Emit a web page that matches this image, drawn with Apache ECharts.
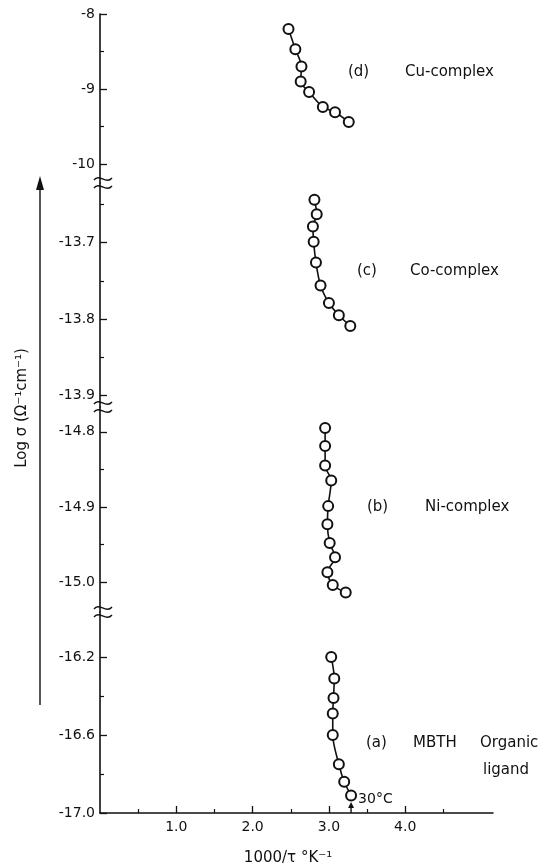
<!DOCTYPE html>
<html>
<head>
<meta charset="utf-8">
<script src="https://cdn.jsdelivr.net/npm/echarts@6/dist/echarts.min.js"></script>
<style>
  html, body { margin: 0; padding: 0; background: #fff; }
  #chart { width: 554px; height: 867px; }
</style>
</head>
<body>
<div id="chart"></div>
<script>
// data: 1000/T (x) against log sigma (y)
const cuX = [2.47, 2.56, 2.64, 2.63, 2.74, 2.92, 3.08, 3.26];
const cuY = [-8.20, -8.47, -8.70, -8.90, -9.04, -9.24, -9.31, -9.44];

const coX = [2.81, 2.84, 2.79, 2.80, 2.83, 2.89, 3.00, 3.13, 3.28];
const coY = [-13.644, -13.663, -13.679, -13.699, -13.726, -13.756, -13.779, -13.795, -13.809];

const niX = [2.95, 2.95, 2.95, 3.03, 2.99, 2.98, 3.01, 3.08, 2.98, 3.05, 3.22];
const niY = [-14.795, -14.819, -14.845, -14.865, -14.899, -14.923, -14.948, -14.967, -14.987, -15.004, -15.014];

const mbthX = [3.03, 3.07, 3.06, 3.05, 3.05, 3.13, 3.20, 3.29];
const mbthY = [-16.20, -16.31, -16.41, -16.49, -16.60, -16.75, -16.84, -16.91];

// tick values (broken axis: one segment per complex)
const yMajor = [
  [-8, -9, -10],
  [-13.7, -13.8, -13.9],
  [-14.8, -14.9, -15.0],
  [-16.2, -16.6, -17.0]
];
const yMinor = [
  [-8.5, -9.5],
  [-13.65, -13.75, -13.85],
  [-14.85, -14.95],
  [-16.4, -16.8]
];
const yDecimals = [0, 1, 1, 1];
const xMajor = [1, 2, 3, 4];
const xMinor = [0.5, 1.5, 2.5, 3.5, 4.5];

const segments = [
  { top: 14, height: 169, min: -10.253, max: -8 },
  { top: 183, height: 224, min: -13.915, max: -13.622 },
  { top: 407, height: 205, min: -15.040, max: -14.767 },
  { top: 612, height: 201, min: -17.0, max: -15.969 }
];

const font = 'DejaVu Sans';
const ink = '#111';

const chart = echarts.init(document.getElementById('chart'));

const grids = segments.map((s) => ({ left: 100, width: 393, top: s.top, height: s.height }));

const xAxes = segments.map((s, i) => ({
  type: 'value',
  gridIndex: i,
  position: 'bottom',
  min: 0,
  max: 5.15,
  show: i === 3,
  axisLine: { show: true, onZero: false, lineStyle: { color: ink, width: 1.6 } },
  axisTick: { show: true, inside: true, length: 7, customValues: xMajor, lineStyle: { color: ink, width: 1.3 } },
  axisLabel: {
    show: true,
    customValues: xMajor,
    margin: 7,
    color: ink,
    fontFamily: font,
    fontSize: 14,
    formatter: (v) => v.toFixed(1)
  },
  splitLine: { show: false }
}));
// minor x ticks on the bottom segment
xAxes.push({
  type: 'value',
  gridIndex: 3,
  position: 'bottom',
  min: 0,
  max: 5.15,
  axisLine: { show: false, onZero: false },
  axisTick: { show: true, inside: true, length: 4, customValues: xMinor, lineStyle: { color: ink, width: 1.2 } },
  axisLabel: { show: false },
  splitLine: { show: false }
});

const yAxes = segments.map((s, i) => ({
  type: 'value',
  gridIndex: i,
  position: 'left',
  min: s.min,
  max: s.max,
  axisLine: { show: true, onZero: false, lineStyle: { color: ink, width: 1.6 } },
  axisTick: { show: true, inside: true, length: 7, customValues: yMajor[i], lineStyle: { color: ink, width: 1.3 } },
  axisLabel: {
    show: true,
    customValues: yMajor[i],
    margin: 5,
    color: ink,
    fontFamily: font,
    fontSize: 14,
    formatter: (v) => v.toFixed(yDecimals[i])
  },
  splitLine: { show: false }
}));
segments.forEach((s, i) => {
  yAxes.push({
    type: 'value',
    gridIndex: i,
    position: 'left',
    min: s.min,
    max: s.max,
    axisLine: { show: false, onZero: false },
    axisTick: { show: true, inside: true, length: 4, customValues: yMinor[i], lineStyle: { color: ink, width: 1.2 } },
    axisLabel: { show: false },
    splitLine: { show: false }
  });
});

const pairs = (xs, ys) => xs.map((x, i) => [x, ys[i]]);
const lineSeries = (name, data, idx) => ({
  name,
  type: 'line',
  xAxisIndex: idx,
  yAxisIndex: idx,
  data,
  smooth: 0.3,
  symbol: 'emptyCircle',
  symbolSize: 10,
  lineStyle: { color: ink, width: 1.6 },
  itemStyle: { color: ink, borderColor: ink, borderWidth: 1.5 },
  emphasis: { disabled: true },
  z: 3
});

const series = [
  lineSeries('Cu-complex', pairs(cuX, cuY), 0),
  lineSeries('Co-complex', pairs(coX, coY), 1),
  lineSeries('Ni-complex', pairs(niX, niY), 2),
  lineSeries('MBTH Organic ligand', pairs(mbthX, mbthY), 3)
];

const txt = (text, x, y, size) => ({
  type: 'text',
  x,
  y,
  style: { text, fill: ink, font: (size || 15) + 'px "' + font + '"', verticalAlign: 'middle' },
  silent: true
});

const breakMarks = [];
[183, 407, 612].forEach((y0) => {
  [-4, 4].forEach((dy) => {
    const y = y0 + dy;
    breakMarks.push({
      type: 'bezierCurve',
      shape: { x1: 94, y1: y + 1, cpx1: 99, cpy1: y - 6, cpx2: 106, cpy2: y + 6, x2: 112, y2: y - 1 },
      style: { stroke: ink, lineWidth: 1.4, fill: null },
      silent: true
    });
  });
});

chart.setOption({
  animation: false,
  backgroundColor: '#fff',
  grid: grids,
  xAxis: xAxes,
  yAxis: yAxes,
  series
});

// 30°C arrow sits under the last point of the organic ligand
const last = chart.convertToPixel({ xAxisIndex: 3, yAxisIndex: 3 }, [mbthX[mbthX.length - 1], -17.0]);
const ax = last[0];
const ay = last[1];

const yTitle = {
  type: 'text',
  x: 22,
  y: 408,
  rotation: Math.PI / 2,
  style: { text: 'Log σ (Ω⁻¹cm⁻¹)', fill: ink, font: '15px "' + font + '"', align: 'center', verticalAlign: 'middle' },
  silent: true
};
const xTitle = txt('1000/τ °K⁻¹', 288, 858);
xTitle.style.align = 'center';

chart.setOption({
  graphic: breakMarks.concat([
    // vertical arrow beside the y axis
    { type: 'line', shape: { x1: 40, y1: 705, x2: 40, y2: 186 }, style: { stroke: ink, lineWidth: 1.4 }, silent: true },
    { type: 'polygon', shape: { points: [[36, 190], [44, 190], [40, 176]] }, style: { fill: ink }, silent: true },
    // small arrow at 30 °C
    { type: 'line', shape: { x1: ax, y1: ay, x2: ax, y2: ay - 6 }, style: { stroke: ink, lineWidth: 1.4 }, silent: true },
    { type: 'polygon', shape: { points: [[ax - 3, ay - 5], [ax + 3, ay - 5], [ax, ay - 11]] }, style: { fill: ink }, silent: true },
    txt('30°C', ax + 7, ay - 14, 14),
    // segment labels
    txt('(d)', 348, 72),
    txt('Cu-complex', 405, 72),
    txt('(c)', 357, 271),
    txt('Co-complex', 410, 271),
    txt('(b)', 367, 507),
    txt('Ni-complex', 425, 507),
    txt('(a)', 366, 743),
    txt('MBTH', 413, 743),
    txt('Organic', 480, 743),
    txt('ligand', 483, 770),
    // axis titles
    xTitle,
    yTitle
  ])
});
</script>
</body>
</html>
